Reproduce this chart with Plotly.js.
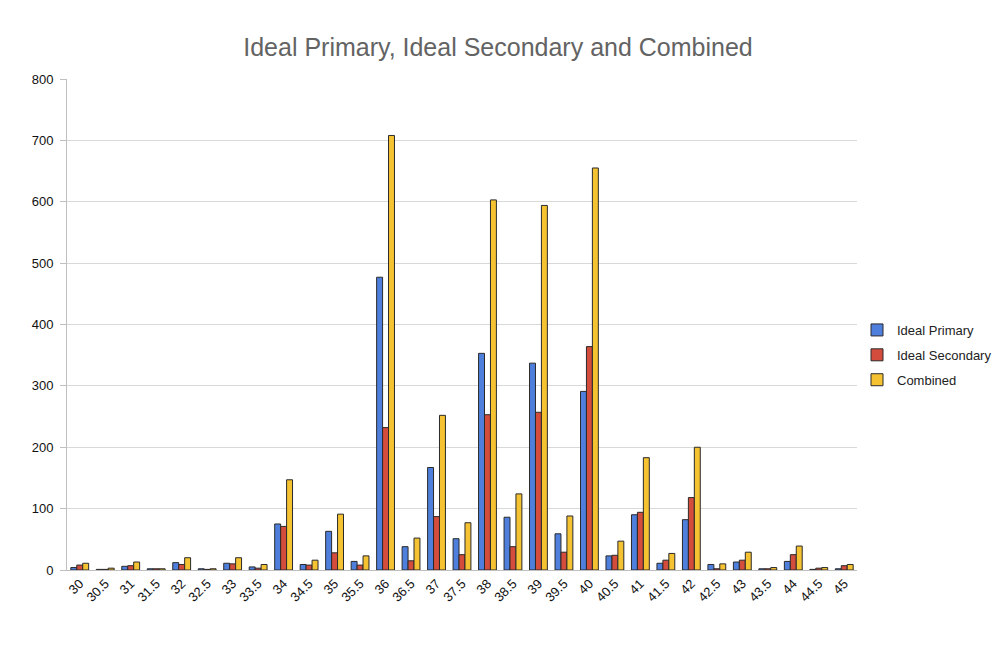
<!DOCTYPE html>
<html>
<head>
<meta charset="utf-8">
<script src="https://cdn.plot.ly/plotly-3.0.1.min.js"></script>
<style>html,body{margin:0;padding:0;background:#fff;}#chart{width:1000px;height:667px;}</style>
</head>
<body>
<div id="chart"></div>
<script>
const categories = ["30","30.5","31","31.5","32","32.5","33","33.5","34","34.5","35","35.5","36","36.5","37","37.5","38","38.5","39","39.5","40","40.5","41","41.5","42","42.5","43","43.5","44","44.5","45"];
const idealPrimary   = [4,1,6,2,12,2,11,5,75,9,63,14,477,38,167,51,353,86,337,59,291,23,90,11,82,9,13,2,14,1,2];
const idealSecondary = [8,1,7,2,9,1,10,3,71,8,28,8,232,15,87,25,253,38,257,29,364,24,94,16,118,2,16,2,25,3,7];
const combined       = [11,3,13,2,20,2,20,9,147,16,91,23,708,52,252,77,603,124,594,88,655,47,183,27,200,10,29,4,39,4,9];

const seriesNames = ["Ideal Primary","Ideal Secondary","Combined"];
const seriesColors = ["#4f7fdc","#d34c3c","#f5c232"];
const seriesData = [idealPrimary, idealSecondary, combined];

const traces = seriesData.map((vals, i) => ({
  type: "bar",
  name: seriesNames[i],
  legendgroup: "g" + i,
  x: categories,
  y: vals,
  marker: {color: seriesColors[i], line: {color: "#2a2a2a", width: 1}}
}));

const layout = {
  width: 1000, height: 667,
  paper_bgcolor: "#ffffff", plot_bgcolor: "#ffffff",
  margin: {l: 67, r: 143, t: 79, b: 97},
  title: {text: "Ideal Primary, Ideal Secondary and Combined", x: 0.498, xanchor: "center", y: 0.929, yanchor: "middle",
          font: {family: "Liberation Sans, Arial, sans-serif", size: 25, color: "#636363"}},
  font: {family: "Liberation Sans, Arial, sans-serif", size: 13, color: "#1a1a1a"},
  barmode: "group", bargap: 0.3, bargroupgap: 0,
  xaxis: {type: "category", tickangle: -45, showgrid: false, showline: true, linecolor: "#bfbfbf",
          ticks: "", tickfont: {size: 13, color: "#111"}},
  yaxis: {range: [0, 800], dtick: 100, showgrid: true, gridcolor: "#d9d9d9", gridwidth: 1,
          showline: true, linecolor: "#bfbfbf", ticks: "outside", ticklen: 6, tickcolor: "#bfbfbf",
          ticklabelstandoff: 4,
          zeroline: false, tickfont: {size: 13, color: "#111"}},
  legend: {xref: "container", yref: "container", x: 0.857, xanchor: "left", y: 0.4678, yanchor: "middle",
           font: {size: 13, color: "#222"}, traceorder: "grouped", tracegroupgap: 5,
           bgcolor: "rgba(0,0,0,0)"}
};

Plotly.newPlot("chart", traces, layout, {displayModeBar: false, staticPlot: true});
</script>
</body>
</html>
